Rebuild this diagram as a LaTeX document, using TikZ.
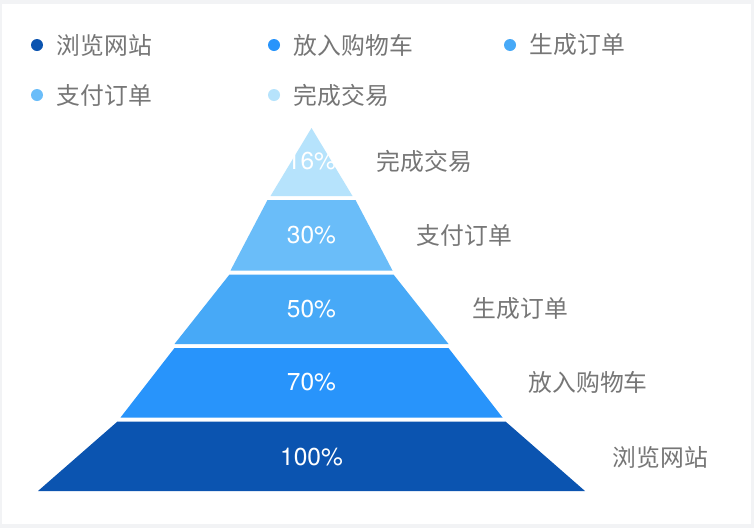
\documentclass[tikz,border=0pt]{standalone}
\usepackage{fontspec}
\setmainfont{Noto Sans CJK SC}
\newfontfamily\numfont{TeX Gyre Heros}
\usepackage{xcolor}
\usetikzlibrary{positioning}
\definecolor{stageA}{HTML}{0B54B0}
\definecolor{stageB}{HTML}{2894FB}
\definecolor{stageC}{HTML}{47A9F7}
\definecolor{stageD}{HTML}{6ABDF9}
\definecolor{stageE}{HTML}{B6E3FC}
\definecolor{txtgray}{HTML}{767676}
\definecolor{framegray}{HTML}{F2F3F5}

\begin{document}
\begin{tikzpicture}[x=1pt,y=-1pt,
	legdot/.style={circle,inner sep=0pt,minimum size=12pt},
	legtext/.style={anchor=west,inner sep=0pt,text=txtgray,font=\fontsize{23.8}{24}\selectfont},
	pct/.style={inner sep=0pt,text=white,font=\numfont\fontsize{24.5}{25}\selectfont},
	stagename/.style={anchor=west,inner sep=0pt,text=txtgray,font=\fontsize{23.8}{24}\selectfont}]
	\useasboundingbox (0,0) rectangle (754,528);
	\fill[framegray] (0,0) rectangle (754,528);
	\fill[white] (2,3.5) rectangle (751,524);
	
	% legend
	\node[legdot,fill=stageA] (dotA) at (37,45) {};
	\node[legdot,fill=stageB] (dotB) at (274,45) {};
	\node[legdot,fill=stageC] (dotC) at (510,45) {};
	\node[legdot,fill=stageD] (dotD) at (37,95) {};
	\node[legdot,fill=stageE] (dotE) at (274,95) {};
	
	\node[legtext,right=13.5pt of dotA] (legA) {浏览网站};
	\node[legtext,right=13.5pt of dotB] (legB) {放入购物车};
	\node[legtext,right=13.5pt of dotC] (legC) {生成订单};
	\node[legtext,right=13.5pt of dotD] (legD) {支付订单};
	\node[legtext,right=13.5pt of dotE] (legE) {完成交易};
	
	% funnel
	\fill[stageA] (117.5,421.5) -- (505.5,421.5) -- (585,491) -- (38,491) -- cycle;
	\fill[stageB] (174.5,348) -- (448.5,348) -- (502.5,417.5) -- (120.5,417.5) -- cycle;
	\fill[stageC] (229.5,274.5) -- (393.5,274.5) -- (448.5,344) -- (174.5,344) -- cycle;
	\fill[stageD] (267.5,200) -- (355.5,200) -- (392.5,270.5) -- (230.5,270.5) -- cycle;
	\fill[stageE] (311.5,128) -- (352.5,196) -- (270.5,196) -- cycle;
	
	\node[pct] (pctA) at (311.5,457) {100\%};
	\node[pct] (pctB) at (311.5,382.5) {70\%};
	\node[pct] (pctC) at (311.5,309) {50\%};
	\node[pct] (pctD) at (311.5,235.5) {30\%};
	\node[pct] (pctE) at (311.5,161) {16\%};
	
	\node[stagename] (nameA) at (612.5,457) {浏览网站};
	\node[stagename] (nameB) at (528.5,382.5) {放入购物车};
	\node[stagename] (nameC) at (472.5,309) {生成订单};
	\node[stagename] (nameD) at (416.5,235.5) {支付订单};
	\node[stagename] (nameE) at (376.5,161) {完成交易};
\end{tikzpicture}
\end{document}
